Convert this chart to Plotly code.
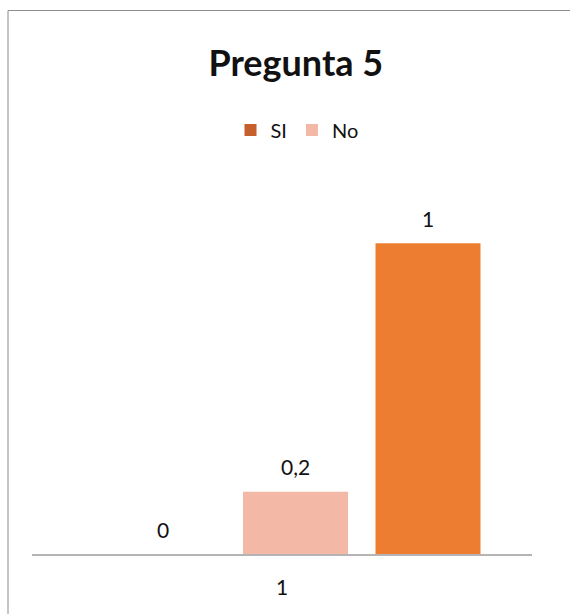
import plotly.graph_objects as go

# Survey results for question 5
category = ["1"]
series_names = ["SI", "No", ""]
series_values = [0, 0.2, 1]
series_colors = ["#C55F2B", "#F4B9A6", "#ED7D31"]
series_in_legend = [True, True, False]

# bar layout inside the single category (axis units, category spans -0.5..0.5)
bar_width = 0.21
bar_offsets = [-0.343, -0.078, 0.187]

font_family = "Lato, 'Open Sans', sans-serif"
plot_w = 500  # px width of plot area, used to place value labels
cat_pos = category.index("1")  # index of the category on the axis

fig = go.Figure()
for name, val, col, show, off in zip(series_names, series_values, series_colors,
                                     series_in_legend, bar_offsets):
    fig.add_trace(go.Bar(
        x=category, y=[val], name=name, marker_color=col,
        marker_line_width=0, width=bar_width, offset=off,
        showlegend=show,
    ))
    label = f"{val:g}".replace(".", ",")
    fig.add_annotation(
        x=cat_pos, y=val, xref="x", yref="y",
        xshift=(off + bar_width / 2) * plot_w, yshift=25,
        text=label, showarrow=False, yanchor="middle",
        font=dict(family=font_family, size=21, color="#111111"),
    )

fig.update_layout(
    width=570, height=614,
    margin=dict(l=32, r=38, t=181, b=60),
    paper_bgcolor="white", plot_bgcolor="white",
    barmode="overlay",
    separators=",.",
    title=dict(
        text="<b>Pregunta 5</b>", x=0.519, xanchor="center",
        y=1 - 63 / 614, yanchor="middle",
        font=dict(family=font_family, size=36, color="#111111"),
    ),
    legend=dict(
        orientation="h", x=0.53, xanchor="center", y=1.137, yanchor="middle",
        font=dict(family=font_family, size=20, color="#111111"),
        entrywidth=0, itemwidth=30, bgcolor="rgba(0,0,0,0)",
    ),
    xaxis=dict(
        type="category", range=[-0.5, 0.5], showgrid=False,
        showline=True, linecolor="#B4B4B4", linewidth=2,
        ticks="", tickfont=dict(family=font_family, size=21, color="#111111"),
        ticklabelstandoff=14,
    ),
    yaxis=dict(range=[0, 1.2], visible=False, showgrid=False, zeroline=False),
    shapes=[dict(
        type="rect", xref="paper", yref="paper",
        x0=-0.048, x1=1.09, y0=-0.2, y1=(554 - 10.5) / 373,
        line=dict(color="#8C8C8C", width=1), fillcolor="rgba(0,0,0,0)",
        layer="below",
    )],
)

fig.write_html("out.html")
